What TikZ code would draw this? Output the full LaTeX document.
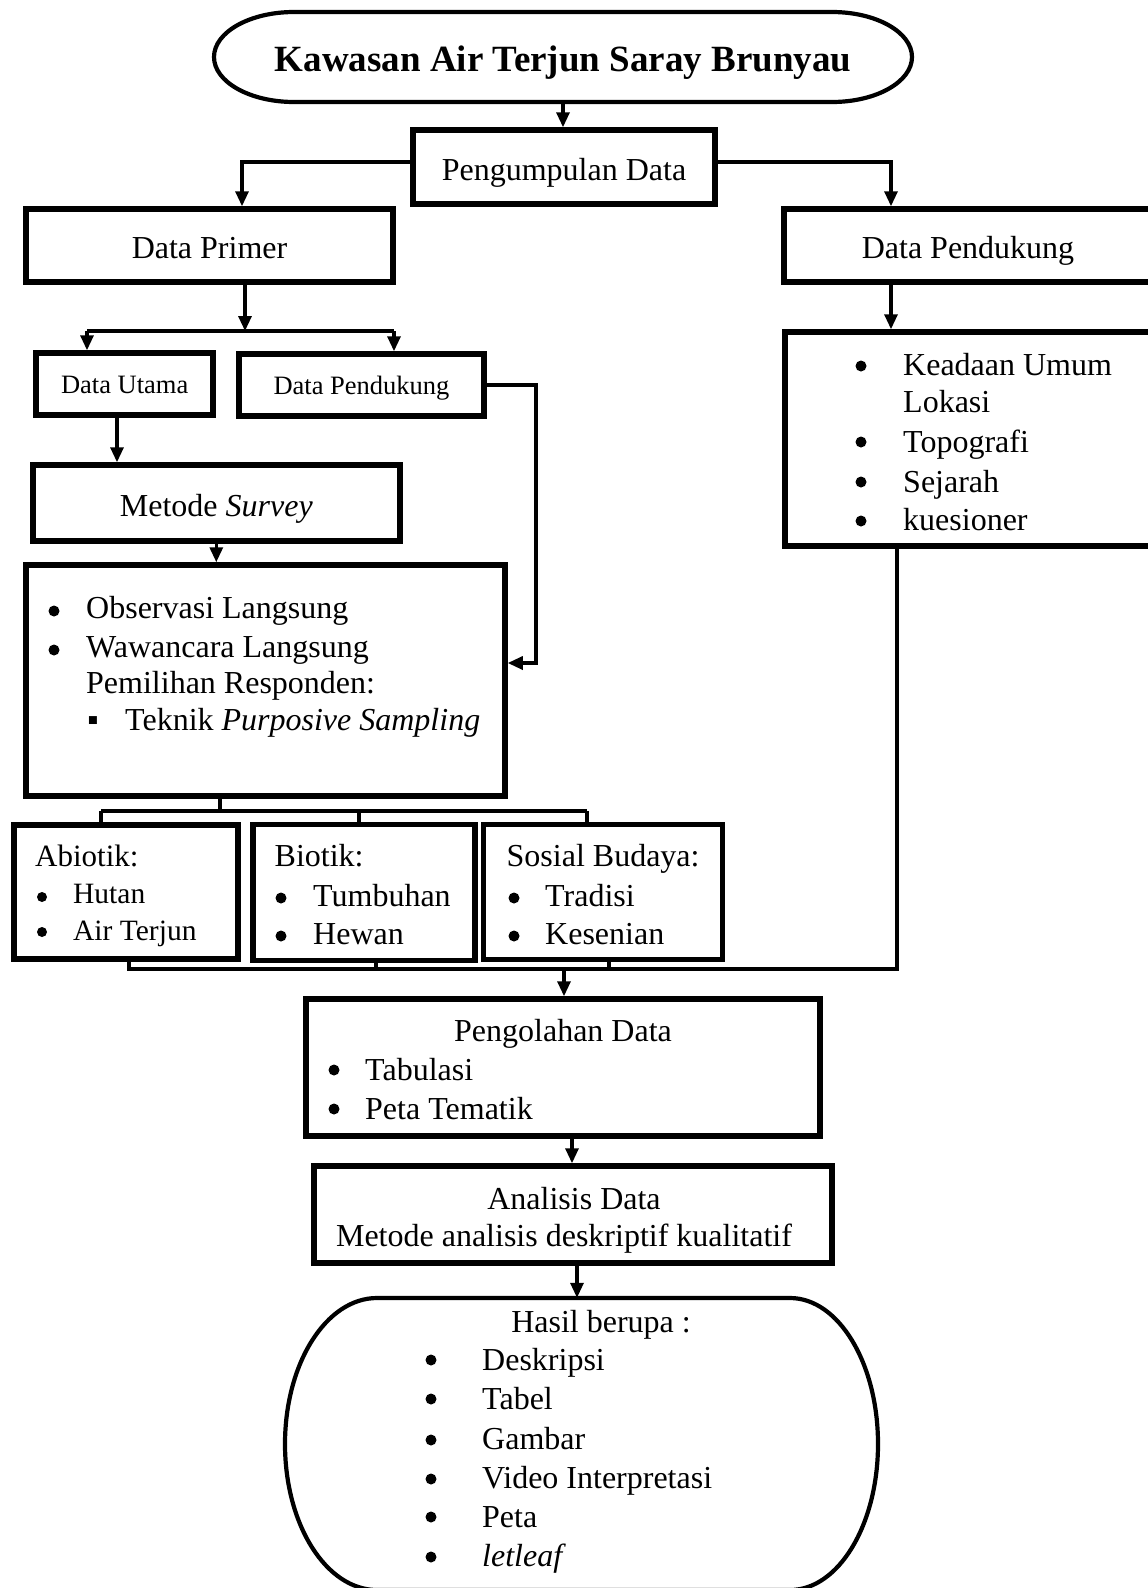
\documentclass[tikz,border=0pt]{standalone}
\usepackage{fontspec}
\setmainfont{Liberation Serif}
\usetikzlibrary{arrows.meta}
\newcommand\fsN{\fontsize{32}{38}\selectfont}
\newcommand\fsS{\fontsize{26.5}{32}\selectfont}
\newcommand\fsA{\fontsize{29.5}{35}\selectfont}
\newcommand\fsH{\fontsize{31}{37}\selectfont}
\newcommand\fsT{\fontsize{37}{44}\selectfont\bfseries}
\begin{document}
\begin{tikzpicture}[x=1pt,y=-1pt,
  box/.style={draw, line width=5.5pt, inner sep=0pt, font=\fsN, text height=26pt, text depth=0pt},
  sbox/.style={box, font=\fsS, text height=19.5pt},
  conn/.style={line width=3.2pt},
  arr/.style={line width=3.2pt, -{Triangle[length=15pt,width=13pt]}},
  txt/.style={inner sep=0pt, anchor=base west, font=\fsN},
  bul/.style={circle, fill=black, draw=none, inner sep=0pt, minimum size=11pt},
  ctr/.style={inner sep=0pt, anchor=base, font=\fsN},
]
\useasboundingbox (0,0) rectangle (1148,1588);
\fill[white] (0,0) rectangle (1148,1588);
\clip (0,0) rectangle (1148,1588);

% ---------- title ----------
\node[inner sep=0pt, minimum width=700pt, minimum height=92pt, font=\fsT, text height=28.4pt, text depth=0pt] (title) at (563,57) {Kawasan Air Terjun Saray Brunyau};
\draw[line width=4.2pt] (294,12) -- (832,12) arc[start angle=-90,end angle=90,x radius=80,y radius=45]
  -- (294,102) arc[start angle=90,end angle=270,x radius=80,y radius=45] -- cycle;

% ---------- boxes ----------
\node[box, minimum width=302pt, minimum height=74pt] (peng) at (564,167) {Pengumpulan Data};
\node[box, minimum width=367pt, minimum height=73pt] (dprim) at (209.5,245.5) {Data Primer};
\node[box, minimum width=368pt, minimum height=73pt] (dpr) at (968,245.5) {Data Pendukung};
\node[sbox, minimum width=177pt, minimum height=62pt] (du) at (124.7,384) {Data Utama};
\node[sbox, minimum width=245pt, minimum height=62pt] (dps) at (361.5,385) {Data Pendukung};
\node[box, minimum width=367pt, minimum height=76pt] (met) at (216.3,503) {Metode \textit{Survey}};
\node[box, minimum width=479pt, minimum height=231pt] (big) at (265.5,680.5) {};
\node[box, minimum width=224pt, minimum height=134pt] (ab) at (126.2,891.9) {};
\node[box, minimum width=222pt, minimum height=136pt] (bi) at (364,892.7) {};
\node[box, minimum width=239pt, minimum height=135pt] (so) at (603.2,892.2) {};
\node[box, minimum width=367pt, minimum height=214pt] (lst) at (968.5,439) {};
\node[box, minimum width=514pt, minimum height=137pt] (pen) at (563,1067.5) {};
\node[box, minimum width=518pt, minimum height=97pt] (ana) at (573,1214.5) {};
\node[inner sep=0pt, minimum width=600pt, minimum height=294pt] (hasil) at (581,1445) {};
\draw[line width=4.2pt] (377,1298) -- (790,1298) arc[start angle=-90,end angle=90,x radius=88,y radius=146]
  -- (377,1590) arc[start angle=90,end angle=270,x radius=92,y radius=146] -- cycle;

% ---------- texts ----------
% big box
\node[bul] (b1) at (54,611) {};
\node[txt] (t1) at (86,618) {Observasi Langsung};
\node[bul] (b2) at (54,650) {};
\node[txt] (t2) at (86,657) {Wawancara Langsung};
\node[txt] (t3) at (86,693) {Pemilihan Responden:};
\node[inner sep=0pt, anchor=base, font=\fsN] (b3) at (93,730) {▪};
\node[txt] (t4) at (125,730) {Teknik \textit{Purposive Sampling}};
% right list
\node[bul] (rb1) at (861,366) {};
\node[txt] (r1) at (903,375) {Keadaan Umum};
\node[txt] (r2) at (903,412) {Lokasi};
\node[bul] (rb3) at (861,442) {};
\node[txt] (r3) at (903,452) {Topografi};
\node[bul] (rb4) at (861,482) {};
\node[txt] (r4) at (903,492) {Sejarah};
\node[bul] (rb5) at (861,521) {};
\node[txt] (r5) at (903,530) {kuesioner};
% abiotik
\node[txt, font=\fsH] (ah) at (35,866) {Abiotik:};
\node[bul, minimum size=10pt] (ab1) at (42,897) {};
\node[txt, font=\fsA] (a1) at (73,903) {Hutan};
\node[bul, minimum size=10pt] (ab2) at (42,932) {};
\node[txt, font=\fsA] (a2) at (73,940) {Air Terjun};
% biotik
\node[txt] (bh) at (274.5,866) {Biotik:};
\node[bul] (bb1) at (281,898) {};
\node[txt] (bt1) at (313,906) {Tumbuhan};
\node[bul] (bb2) at (281,936) {};
\node[txt] (bt2) at (313,944) {Hewan};
% sosial budaya
\node[txt] (sh) at (506.5,866) {Sosial Budaya:};
\node[bul] (sb1) at (514,898) {};
\node[txt] (st1) at (545,906) {Tradisi};
\node[bul] (sb2) at (514,936) {};
\node[txt] (st2) at (545,944) {Kesenian};
% pengolahan
\node[ctr] (ph) at (563,1041) {Pengolahan Data};
\node[bul] (pb1) at (334,1070) {};
\node[txt] (p1) at (365,1080) {Tabulasi};
\node[bul] (pb2) at (334,1109) {};
\node[txt] (p2) at (365,1119) {Peta Tematik};
% analisis
\node[ctr] (an1) at (574,1209) {Analisis Data};
\node[ctr] (an2) at (564,1246) {Metode analisis deskriptif kualitatif};
% hasil
\node[ctr] (hh) at (601,1332) {Hasil berupa :};
\node[bul] (hb1) at (431,1360) {};
\node[txt] (h1) at (482,1370) {Deskripsi};
\node[bul] (hb2) at (431,1399) {};
\node[txt] (h2) at (482,1409) {Tabel};
\node[bul] (hb3) at (431,1440) {};
\node[txt] (h3) at (482,1449) {Gambar};
\node[bul] (hb4) at (431,1479) {};
\node[txt] (h4) at (482,1488) {Video Interpretasi};
\node[bul] (hb5) at (431,1517) {};
\node[txt] (h5) at (482,1527) {Peta};
\node[bul] (hb6) at (431,1557) {};
\node[txt] (h6) at (482,1566) {\textit{letleaf}};

% ---------- connectors ----------
\draw[arr] (title.south) -- (title.south |- peng.north);
\draw[arr] ([yshift=5pt]peng.west) -| ([xshift=32.5pt]dprim.north);
\draw[arr] ([yshift=5pt]peng.east) -| ([xshift=-77pt]dpr.north);

\coordinate (bm) at (245,331);
\coordinate (bl) at (87,331);
\coordinate (br) at (394,331);
\draw[arr] (bm |- dprim.south) -- (bm);
\draw[conn] (bl) -- (br);
\draw[arr] (bl) -- (bl |- du.north);
\draw[arr] (br) -- (br |- dps.north);

\coordinate (ax) at (117,0);
\draw[arr] (ax |- du.south) -- (ax |- met.north);
\draw[arr] (met.south) -- (met.south |- big.north);

\coordinate (rr) at (536,663);
\draw[arr] (dps.east) -| (rr) -- (rr -| big.east);

\coordinate (s0) at (220,811);
\coordinate (s1) at (101,811);
\coordinate (s2) at (359,811);
\coordinate (s3) at (587,811);
\draw[conn] (s0 |- big.south) -- (s0);
\draw[conn] (s1) -- (s3);
\draw[conn] (s1) -- (s1 |- ab.north);
\draw[conn] (s2) -- (s2 |- bi.north);
\draw[conn] (s3) -- (s3 |- so.north);

\coordinate (vx) at (891,0);
\draw[arr] (vx |- dpr.south) -- (vx |- lst.north);

\coordinate (u1) at (129,969);
\coordinate (u2) at (376,969);
\coordinate (u3) at (609,969);
\coordinate (u4) at (897,969);
\coordinate (um) at (564,969);
\draw[conn] (u1 |- ab.south) -- (u1) -- (u4) -- (u4 |- lst.south);
\draw[conn] (u2 |- bi.south) -- (u2);
\draw[conn] (u3 |- so.south) -- (u3);
\draw[arr] (um) -- (um |- pen.north);

\coordinate (wx) at (572,0);
\draw[arr] (wx |- pen.south) -- (wx |- ana.north);
\coordinate (hx) at (577,0);
\draw[arr] (hx |- ana.south) -- (hx |- hasil.north);
\end{tikzpicture}
\end{document}
